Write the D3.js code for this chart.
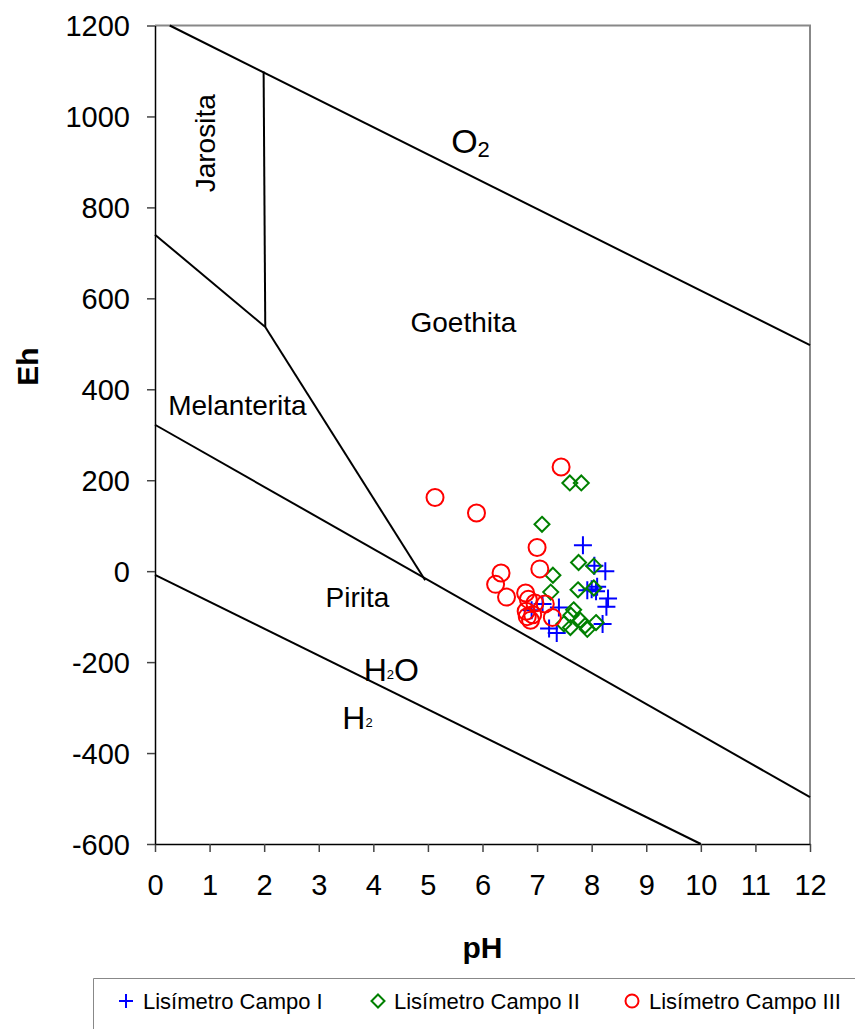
<!DOCTYPE html>
<html><head><meta charset="utf-8">
<script src="https://cdn.jsdelivr.net/npm/d3@7"></script>
<style>body{margin:0;background:#fff}svg{display:block}text{font-family:"Liberation Sans",Arial,sans-serif}</style>
</head><body><svg id="c" width="855" height="1029"></svg>
<script>
// ---- data ----
const phTicks = [0,1,2,3,4,5,6,7,8,9,10,11,12];
const ehTicks = [-600,-400,-200,0,200,400,600,800,1000,1200];
// stability field boundaries [pH, Eh]
const lineO2 = [[0.27,1200],[12,497]];
const lineH2 = [[0,-8],[10,-600]];
const linePirita = [[0,322],[12,-497]];
const lineJarosita = [[1.99,1099],[2.02,537]];
const lineMelJar = [[0,740],[2.02,537]];
const lineMelGoe = [[2.02,537],[4.95,-20]];
// Lisímetro Campo I (blue +)
const campoI_pH = [7.84,8.05,8.25,8.00,8.08,8.30,8.27,8.20,7.40,7.10,6.90,7.22,7.36,7.92,8.10];
const campoI_Eh = [57,12,0,-40,-44,-60,-78,-116,-80,-72,-86,-126,-136,-42,-34];
// Lisímetro Campo II (green diamonds)
const campoII_pH = [7.60,7.81,7.09,7.76,8.04,7.29,7.25,7.75,8.04,7.67,7.62,7.79,8.08,7.88,7.49,7.61,7.92];
const campoII_Eh = [194,194,103,19,11,-9,-46,-41,-37,-85,-97,-108,-113,-120,-116,-124,-128];
// Lisímetro Campo III (red circles)
const campoIII_pH = [7.44,5.13,5.89,7.00,7.05,6.34,6.24,6.44,6.79,6.84,6.96,7.15,6.80,6.92,6.88,7.28,6.82];
const campoIII_Eh = [229,162,128,52,5,-4,-29,-57,-48,-62,-70,-72,-88,-96,-108,-102,-100];
const seriesNames = ["Lisímetro Campo I","Lisímetro Campo II","Lisímetro Campo III"];
const labels = [
  {t:"Goethita", ph:5.65, eh:527},
  {t:"Melanterita", ph:1.51, eh:343},
  {t:"Pirita", ph:3.71, eh:-78}
];

// ---- drawing ----
const svg = d3.select("#c");
const x = d3.scaleLinear().domain([0,12]).range([155,810]);
const y = d3.scaleLinear().domain([-600,1200]).range([844,25.5]);

// frame (top/right gray)
svg.append("path").attr("d",`M${x(0)},${y(1200)}H${x(12)}V${y(-600)}`)
  .attr("fill","none").attr("stroke","#888").attr("stroke-width",2);

const line = d3.line().x(d=>x(d[0])).y(d=>y(d[1]));
[lineO2,lineH2,linePirita,lineJarosita,lineMelJar,lineMelGoe].forEach(l=>{
  svg.append("path").attr("d",line(l)).attr("fill","none").attr("stroke","#000").attr("stroke-width",2);
});

// axes
const fmt = d=>String(d);
const xa = svg.append("g").attr("transform",`translate(0,${y(-600)})`)
  .call(d3.axisBottom(x).tickValues(phTicks).tickFormat(fmt).tickSizeInner(8).tickSizeOuter(0).tickPadding(22));
const ya = svg.append("g").attr("transform",`translate(${x(0)},0)`)
  .call(d3.axisLeft(y).tickValues(ehTicks).tickFormat(fmt).tickSizeInner(8).tickSizeOuter(0).tickPadding(17));
[xa,ya].forEach(g=>{
  g.select(".domain").attr("stroke","#000").attr("stroke-width",1.5);
  g.selectAll(".tick line").attr("stroke","#444").attr("stroke-width",1.5);
  g.selectAll(".tick text").attr("font-size",29).attr("fill","#000").attr("font-family","Liberation Sans, Arial, sans-serif");
});
ya.selectAll(".tick text").attr("dy","0.35em");

// region labels
labels.forEach(l=>{
  svg.append("text").attr("x",x(l.ph)).attr("y",y(l.eh)).attr("text-anchor","middle")
    .attr("font-size",28).text(l.t);
});
svg.append("text").attr("transform",`translate(${x(0.92)+10},${y(941)}) rotate(-90)`)
  .attr("text-anchor","middle").attr("font-size",28).text("Jarosita");
const o2 = svg.append("text").attr("x",x(5.78)).attr("y",y(920)).attr("text-anchor","middle").attr("font-size",34);
o2.append("tspan").text("O");
o2.append("tspan").attr("font-size",22).attr("dy",4).text("2");
const h2o = svg.append("text").attr("x",x(4.33)).attr("y",y(-242)).attr("text-anchor","middle").attr("font-size",32);
h2o.append("tspan").text("H");
h2o.append("tspan").attr("font-size",13).attr("dy",-2).text("2");
h2o.append("tspan").attr("dy",2).text("O");
const h2 = svg.append("text").attr("x",x(3.71)).attr("y",y(-346)).attr("text-anchor","middle").attr("font-size",32);
h2.append("tspan").text("H");
h2.append("tspan").attr("font-size",13).attr("dy",-2).text("2");

// axis titles
svg.append("text").attr("transform",`translate(38,${y(450)}) rotate(-90)`).attr("text-anchor","middle")
  .attr("font-size",30).attr("font-weight","bold").text("Eh");
svg.append("text").attr("x",x(6)).attr("y",958).attr("text-anchor","middle")
  .attr("font-size",30).attr("font-weight","bold").text("pH");

// markers
const crossPath = r=>`M${-r},0H${r}M0,${-r}V${r}`;
const diamondPath = r=>`M0,${-r}L${r},0L0,${r}L${-r},0Z`;
function drawSeries(phs, ehs, kind){
  const g = svg.append("g");
  phs.forEach((p,i)=>{
    const cx=x(p), cy=y(ehs[i]);
    if(kind===0) g.append("path").attr("d",crossPath(9)).attr("transform",`translate(${cx},${cy})`).attr("stroke","#0000ff").attr("stroke-width",2).attr("fill","none");
    if(kind===1) g.append("path").attr("d",diamondPath(7.5)).attr("transform",`translate(${cx},${cy})`).attr("stroke","#008000").attr("stroke-width",2).attr("fill","none");
    if(kind===2) g.append("circle").attr("cx",cx).attr("cy",cy).attr("r",8.5).attr("stroke","#ff0000").attr("stroke-width",2).attr("fill","none");
  });
}
drawSeries(campoI_pH,campoI_Eh,0);
drawSeries(campoII_pH,campoII_Eh,1);
drawSeries(campoIII_pH,campoIII_Eh,2);

// legend
svg.append("path").attr("d","M855,978.5H93.5V1029").attr("fill","none").attr("stroke","#888").attr("stroke-width",1);
const leg = [{x:126,tx:143,k:0},{x:378,tx:394,k:1},{x:632,tx:649,k:2}];
leg.forEach((l,i)=>{
  const cy=1001;
  if(l.k===0) svg.append("path").attr("d",crossPath(7)).attr("transform",`translate(${l.x},${cy})`).attr("stroke","#0000ff").attr("stroke-width",2).attr("fill","none");
  if(l.k===1) svg.append("path").attr("d",diamondPath(6.5)).attr("transform",`translate(${l.x},${cy})`).attr("stroke","#008000").attr("stroke-width",2).attr("fill","none");
  if(l.k===2) svg.append("circle").attr("cx",l.x).attr("cy",cy).attr("r",6.5).attr("stroke","#ff0000").attr("stroke-width",2).attr("fill","none");
  svg.append("text").attr("x",l.tx).attr("y",cy+8).attr("font-size",22).text(seriesNames[i]);
});
</script></body></html>
